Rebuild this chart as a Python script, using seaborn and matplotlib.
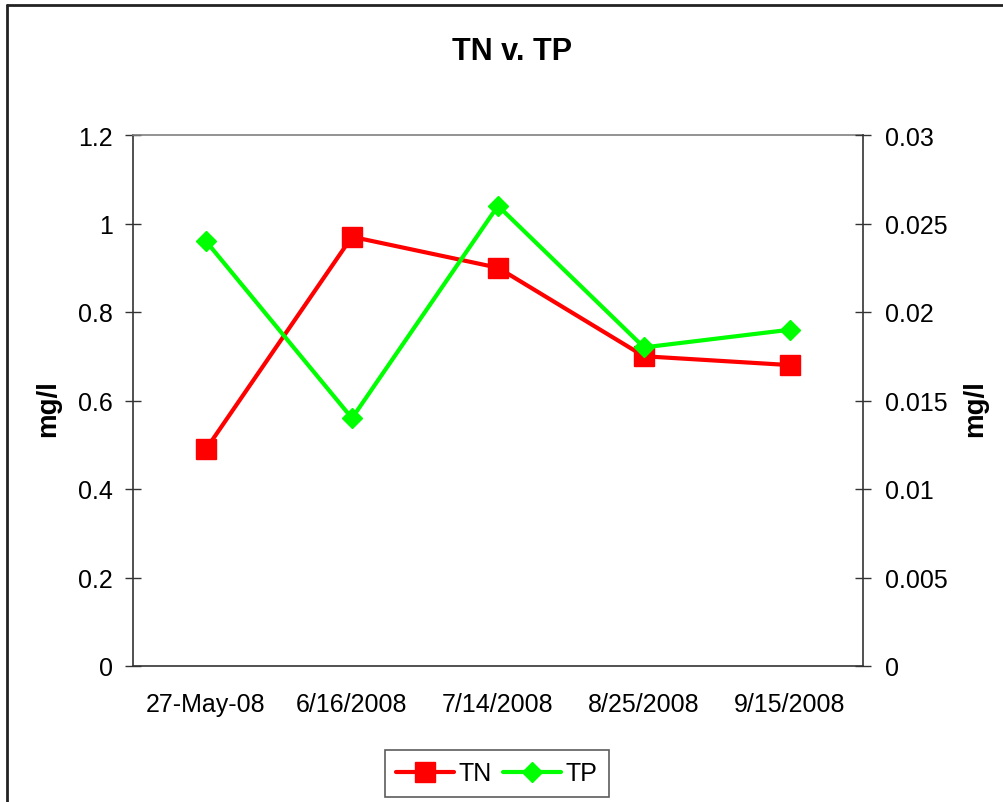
import numpy as np
import pandas as pd
import matplotlib
matplotlib.use("Agg")
import matplotlib.pyplot as plt
from matplotlib.lines import Line2D
from matplotlib.ticker import FixedLocator, FixedFormatter
import seaborn as sns

# Sampling dates and measured concentrations
dates = ["27-May-08", "6/16/2008", "7/14/2008", "8/25/2008", "9/15/2008"]
tn_values = [0.49, 0.97, 0.90, 0.70, 0.68]
tp_values = [0.024, 0.014, 0.026, 0.018, 0.019]
left_ticks = [0, 0.2, 0.4, 0.6, 0.8, 1.0, 1.2]
left_labels = ["0", "0.2", "0.4", "0.6", "0.8", "1", "1.2"]
right_ticks = [0, 0.005, 0.01, 0.015, 0.02, 0.025, 0.03]
right_labels = ["0", "0.005", "0.01", "0.015", "0.02", "0.025", "0.03"]

sns.set_style("white")
plt.rcParams["font.family"] = ["Liberation Sans", "DejaVu Sans"]
plt.rcParams["text.color"] = "black"
plt.rcParams["axes.labelcolor"] = "black"

df = pd.DataFrame({"pos": np.arange(len(dates)), "date": dates,
                   "TN": tn_values, "TP": tp_values})

fig = plt.figure(figsize=(10.04, 8.03), dpi=100)
ax = fig.add_axes([133 / 1004, 1 - 667 / 803, 730 / 1004, 531 / 803])
ax2 = ax.twinx()

sns.lineplot(data=df, x="pos", y="TN", ax=ax, color="#FF0000", linewidth=3,
             marker="s", markersize=14, markeredgecolor="#FF0000",
             markeredgewidth=1, label="TN", legend=False, sort=False)
sns.lineplot(data=df, x="pos", y="TP", ax=ax2, color="#00FF00", linewidth=3,
             marker="D", markersize=10.5, markeredgecolor="#00FF00",
             markeredgewidth=1, label="TP", legend=False, sort=False)

# Category axis: boundary ticks, labels centred on each category
ax.set_xlim(-0.5, len(dates) - 0.5)
ax.xaxis.set_major_locator(FixedLocator(np.arange(len(dates) + 1) - 0.5))
ax.xaxis.set_major_formatter(FixedFormatter([""] * (len(dates) + 1)))
ax.xaxis.set_minor_locator(FixedLocator(np.arange(len(dates))))
ax.xaxis.set_minor_formatter(FixedFormatter(dates))
ax.tick_params(axis="x", which="major", direction="inout", length=11,
               width=1, color="#333333")
ax.tick_params(axis="x", which="minor", length=0, pad=19, labelsize=18,
               labelcolor="black")
ax.set_xlabel("")

ax.set_ylim(0, 1.2)
ax.set_yticks(left_ticks)
ax.set_yticklabels(left_labels)
ax.tick_params(axis="y", direction="inout", length=11, width=1,
               color="#333333", pad=9, labelsize=18, labelcolor="black")

ax2.set_ylim(0, 0.03)
ax2.set_yticks(right_ticks)
ax2.set_yticklabels(right_labels)
ax2.tick_params(axis="y", direction="inout", length=11, width=1,
                color="#333333", pad=10, labelsize=18, labelcolor="black")

ax.set_ylabel("mg/l", fontsize=20, fontweight="bold", color="black")
ax.yaxis.set_label_coords(-0.1164, 0.486)
ax.yaxis.label.set_verticalalignment("center")
ax2.set_ylabel("mg/l", fontsize=20, fontweight="bold", color="black")
ax2.yaxis.set_label_coords(1.1534, 0.486)
ax2.yaxis.label.set_verticalalignment("center")

for name, sp in ax.spines.items():
    sp.set_linewidth(1.2)
    sp.set_color("#333333")
ax.spines["top"].set_color("#808080")
ax.spines["right"].set_visible(False)
for name, sp in ax2.spines.items():
    sp.set_visible(name == "right")
ax2.spines["right"].set_linewidth(1.2)
ax2.spines["right"].set_color("#333333")
ax.grid(False)
ax2.grid(False)

fig.text(512 / 1004, 1 - 52 / 803, "TN v. TP", fontsize=22, fontweight="bold",
         ha="center", va="center", color="black")

leg = fig.legend(handles=[ax.lines[0], ax2.lines[0]], labels=["TN", "TP"],
                 loc="center", bbox_to_anchor=(497 / 1004, 1 - 774.5 / 803),
                 ncol=2, fontsize=18, frameon=True, fancybox=False,
                 edgecolor="#333333", handlelength=2.3, handletextpad=0.2,
                 columnspacing=0.45, borderpad=0.45, borderaxespad=0)
leg.get_frame().set_linewidth(1.2)
for t in leg.get_texts():
    t.set_color("black")

# Chart-area border along the top and left edges
fig.add_artist(Line2D([6.5 / 1004, 6.5 / 1004], [0, 1 - 5.5 / 803],
                      transform=fig.transFigure, color="#222222", linewidth=2))
fig.add_artist(Line2D([6.5 / 1004, 1], [1 - 5.5 / 803, 1 - 5.5 / 803],
                      transform=fig.transFigure, color="#222222", linewidth=2))

fig.savefig("out.png", dpi=100)
